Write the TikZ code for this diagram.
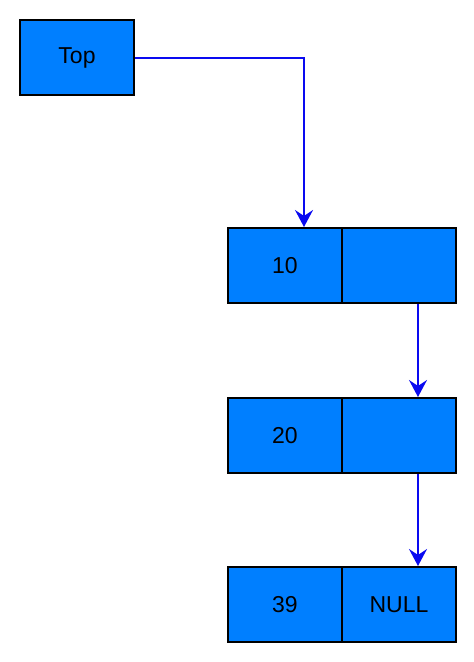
\documentclass[tikz,border=0pt]{standalone}
\usepackage{fontspec}
\setmainfont{Liberation Sans}
\usetikzlibrary{arrows.meta}
\definecolor{boxblue}{RGB}{0,127,255}
\definecolor{arrblue}{RGB}{10,10,240}
\begin{document}
\begin{tikzpicture}[x=1pt,y=-1pt,
  cell/.style={draw=black, line width=2pt, fill=boxblue, minimum width=114pt, minimum height=75pt, inner sep=0pt, anchor=north west, font=\fontsize{23}{27}\selectfont},
  link/.style={draw=arrblue, line width=2pt, -{Stealth[length=17pt,width=18pt,inset=6pt]}}]
\useasboundingbox (0,0) rectangle (474,662);
\node[cell] (top) at (19,19) {Top};
\node[cell] (a1) at (227,227) {10};
\node[cell] (a2) at (341,227) {};
\node[cell] (b1) at (227,397) {20};
\node[cell] (b2) at (341,397) {};
\node[cell] (c1) at (227,566) {39};
\node[cell] (c2) at (341,566) {NULL};
\draw[link] (top.east) -| ([xshift=19pt]a1.north);
\draw[link] ([xshift=19pt]a2.south) -- ([xshift=19pt]b2.north);
\draw[link] ([xshift=19pt]b2.south) -- ([xshift=19pt]c2.north);
\end{tikzpicture}
\end{document}
